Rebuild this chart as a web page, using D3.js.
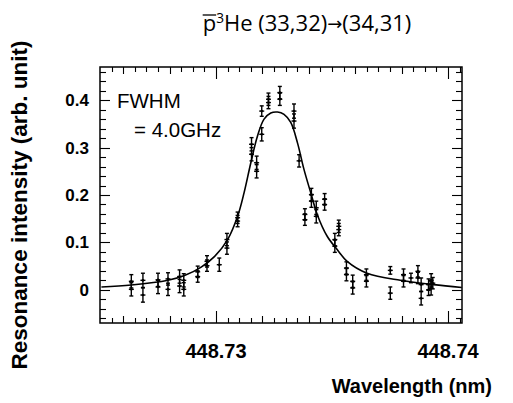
<!DOCTYPE html>
<html><head><meta charset="utf-8">
<script src="https://cdn.jsdelivr.net/npm/d3@7"></script>
<style>body{margin:0;background:#fff}svg{display:block}</style>
</head><body><svg id="c" width="513" height="403"></svg>
<script>
// measured points (wavelength nm, intensity arb. unit, error)
const wavelength = [448.72635,448.72635,448.72685,448.72685,448.72750,448.72750,448.72793,448.72793,
  448.72843,448.72843,448.72861,448.72861,448.72921,448.72921,448.72961,448.72961,448.73014,
  448.73047,448.73047,448.73093,448.73093,448.73153,448.73153,448.73175,448.73175,448.73197,448.73197,
  448.73226,448.73226,448.73275,448.73275,448.73336,448.73336,448.73358,448.73383,448.73383,
  448.73411,448.73411,448.73432,448.73432,448.73468,448.73468,448.73512,448.73512,448.73529,448.73529,
  448.73562,448.73562,448.73589,448.73589,448.73648,448.73648,448.73751,448.73751,448.73808,448.73808,
  448.73840,448.73870,448.73870,448.73884,448.73884,448.73916,448.73916,448.73927,448.73927,448.73934];
const intensity = [0.018,0.001,0.020,-0.011,0.021,0.006,0.023,0.001,
  0.028,0.008,0.020,0.001,0.038,0.028,0.060,0.051,0.053,
  0.106,0.088,0.152,0.145,0.307,0.286,0.268,0.250,0.328,0.377,
  0.402,0.395,0.416,0.402,0.377,0.356,0.272,0.159,0.148,
  0.201,0.187,0.173,0.155,0.191,0.180,0.106,0.092,0.134,0.127,
  0.046,0.032,0.018,0.004,0.032,0.018,0.041,-0.007,0.032,0.018,
  0.025,0.039,0.025,0.011,-0.018,0.011,0.000,0.020,0.003,0.014];
const errorBar = [0.014,0.014,0.015,0.015,0.014,0.014,0.013,0.013,
  0.014,0.014,0.014,0.014,0.012,0.012,0.012,0.012,0.014,
  0.013,0.013,0.012,0.012,0.014,0.014,0.014,0.014,0.014,0.011,
  0.013,0.013,0.013,0.013,0.015,0.015,0.013,0.012,0.012,
  0.013,0.013,0.014,0.014,0.012,0.012,0.013,0.013,0.013,0.013,
  0.013,0.013,0.013,0.013,0.012,0.012,0.008,0.013,0.012,0.012,
  0.010,0.012,0.012,0.014,0.014,0.012,0.012,0.014,0.014,0.012];
// fitted curve
const fitWavelength = [448.72506,448.72635,448.72793,448.72864,448.72936,448.72993,448.73050,448.73093,
  448.73121,448.73150,448.73179,448.73207,448.73236,448.73265,448.73293,448.73322,448.73351,448.73379,
  448.73408,448.73436,448.73479,448.73522,448.73565,448.73651,448.73794,448.73937,448.74059];
const fitIntensity = [0.006,0.010,0.020,0.030,0.048,0.070,0.106,0.155,
  0.205,0.268,0.325,0.360,0.373,0.375,0.370,0.353,0.310,0.254,
  0.205,0.159,0.113,0.085,0.060,0.035,0.020,0.011,0.005];
const xTickValues = [448.73, 448.74];
const xTickLabels = ["448.73", "448.74"];
const yTickValues = [0, 0.1, 0.2, 0.3, 0.4];
const yTickLabels = ["0", "0.1", "0.2", "0.3", "0.4"];
const xDomain = [448.725, 448.7406];
const yDomain = [-0.07, 0.47];

const svg = d3.select("#c");
const L = 100, R = 462, T = 67, B = 323;
const x = d3.scaleLinear().domain(xDomain).range([L, R]);
const y = d3.scaleLinear().domain(yDomain).range([B, T]);
const sans = "'Liberation Sans', Arial, Helvetica, sans-serif";

svg.append("rect").attr("width", 513).attr("height", 403).attr("fill", "#fff");

// ticks
const xTert = d3.range(448.7255, 448.7406, 0.0005);
const xSec = d3.range(448.726, 448.7406, 0.002);
const yMinor = d3.range(-0.06, 0.4701, 0.02);
const gT = svg.append("g").attr("stroke", "#000").attr("stroke-width", 1.1);
xTert.forEach(v => {
  let len = 5;
  if (xSec.some(s => Math.abs(s - v) < 1e-7)) len = 7;
  if (xTickValues.some(s => Math.abs(s - v) < 1e-7)) len = 12;
  const px = Math.round(x(v)) + 0.5;
  gT.append("line").attr("x1", px).attr("x2", px).attr("y1", B).attr("y2", B - len);
  gT.append("line").attr("x1", px).attr("x2", px).attr("y1", T).attr("y2", T + len);
});
yMinor.forEach(v => {
  let len = 6;
  if (yTickValues.some(s => Math.abs(s - v) < 1e-7)) len = 10;
  const py = Math.round(y(v)) + 0.5;
  gT.append("line").attr("x1", L).attr("x2", L + len).attr("y1", py).attr("y2", py);
  gT.append("line").attr("x1", R).attr("x2", R - len).attr("y1", py).attr("y2", py);
});

// frame
svg.append("rect").attr("x", L).attr("y", T).attr("width", R - L).attr("height", B - T)
  .attr("fill", "none").attr("stroke", "#000").attr("stroke-width", 1.5);

// tick labels
svg.append("g").selectAll("text").data(xTickValues).join("text")
  .attr("x", d => x(d)).attr("y", 358).attr("text-anchor", "middle")
  .attr("font-family", sans).attr("font-weight", "bold").attr("font-size", 20)
  .text((d, i) => xTickLabels[i]);
svg.append("g").selectAll("text").data(yTickValues).join("text")
  .attr("x", 89).attr("y", d => y(d) + 6).attr("text-anchor", "end")
  .attr("font-family", sans).attr("font-weight", "bold").attr("font-size", 17)
  .text((d, i) => yTickLabels[i]);

// axis titles
svg.append("text").attr("x", 492).attr("y", 393).attr("text-anchor", "end")
  .attr("font-family", sans).attr("font-weight", "bold").attr("font-size", 20)
  .text("Wavelength (nm)");
svg.append("text").attr("transform", "translate(27,205) rotate(-90)").attr("text-anchor", "middle")
  .attr("font-family", sans).attr("font-weight", "bold").attr("font-size", 22.5)
  .text("Resonance intensity (arb. unit)");

// clip
svg.append("clipPath").attr("id", "clip").append("rect")
  .attr("x", L).attr("y", T).attr("width", R - L).attr("height", B - T);

// fit curve
const fitData = fitWavelength.map((w, i) => [w, fitIntensity[i]]);
svg.append("path").datum(fitData).attr("clip-path", "url(#clip)")
  .attr("fill", "none").attr("stroke", "#000").attr("stroke-width", 1.6)
  .attr("d", d3.line().x(d => x(d[0])).y(d => y(d[1])).curve(d3.curveCatmullRom.alpha(0.5)));

// data points
const pts = wavelength.map((w, i) => ({ w, v: intensity[i], e: errorBar[i] }));
const gp = svg.append("g").attr("stroke", "#000").attr("stroke-width", 1.4);
pts.forEach(p => {
  const px = x(p.w), py = y(p.v), y1 = y(p.v + p.e), y2 = y(p.v - p.e);
  gp.append("line").attr("x1", px).attr("x2", px).attr("y1", y1).attr("y2", y2);
  gp.append("line").attr("x1", px - 2).attr("x2", px + 2).attr("y1", y1).attr("y2", y1);
  gp.append("line").attr("x1", px - 2).attr("x2", px + 2).attr("y1", y2).attr("y2", y2);
  gp.append("line").attr("x1", px - 2.5).attr("x2", px + 2.5).attr("y1", py).attr("y2", py);
  gp.append("circle").attr("cx", px).attr("cy", py).attr("r", 1.3).attr("fill", "#000").attr("stroke", "none");
});

// FWHM annotation
svg.append("text").attr("x", 117).attr("y", 108).attr("font-family", sans).attr("font-size", 20.5).text("FWHM");
svg.append("text").attr("x", 134).attr("y", 137).attr("font-family", sans).attr("font-size", 20.5).text("= 4.0GHz");

// title
const tfs = 22;
const ty = 31;
const title = svg.append("text").attr("x", 307).attr("y", ty).attr("text-anchor", "middle")
  .attr("font-family", "'Open Sans', 'Noto Sans', sans-serif").attr("font-size", tfs);
title.append("tspan").text("p");
title.append("tspan").attr("font-size", tfs * 0.62).attr("dy", -8).text("3");
title.append("tspan").attr("dy", 8).text("He (33,32)");
title.append("tspan").attr("font-family", "'DejaVu Sans', sans-serif").attr("font-size", 18).attr("dy", -1).text("\u2192");
title.append("tspan").attr("dy", 1).text("(34,31)");
const tn = title.node();
const p0 = tn.getStartPositionOfChar(0);
const pw = tn.getSubStringLength(0, 1);
svg.append("line").attr("x1", p0.x).attr("x2", p0.x + pw)
  .attr("y1", ty - 16).attr("y2", ty - 16).attr("stroke", "#000").attr("stroke-width", 1.3);
</script>
</body></html>
